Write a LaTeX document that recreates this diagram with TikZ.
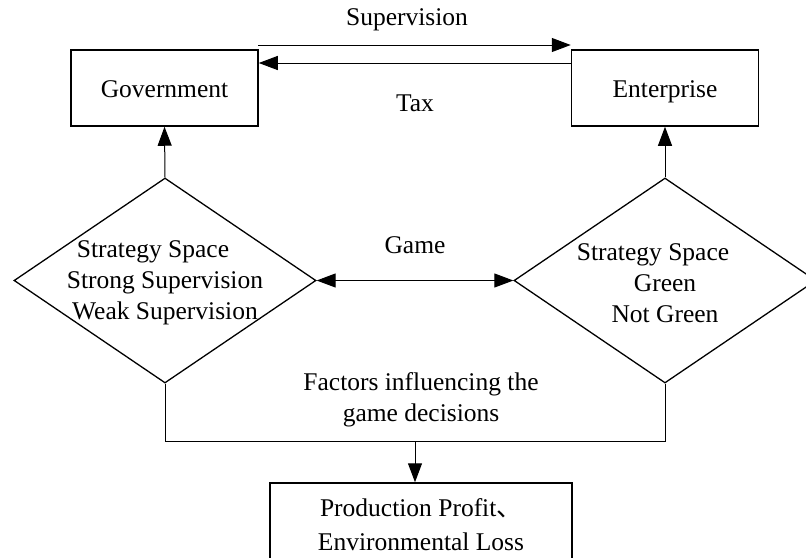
\documentclass[tikz,border=0pt]{standalone}
\usepackage{fontspec}
\setmainfont{Liberation Serif}
\newfontfamily\cjk{Noto Sans CJK SC}
\usetikzlibrary{shapes.geometric,arrows.meta,calc}
\begin{document}
\begin{tikzpicture}[x=1pt,y=-1pt,
  every node/.style={font=\fontsize{25.5}{31}\selectfont},
  boxnode/.style={draw,line width=1.5pt,minimum width=187pt,minimum height=76pt,inner sep=0pt,text height=21pt,text depth=2pt},
  dia/.style={draw,line width=1.3pt,shape=diamond,minimum width=302pt,minimum height=205pt,inner sep=0pt},
  dtext/.style={align=center,inner sep=0pt},
  lbl/.style={inner sep=0pt},
  arr/.style={line width=1pt,-{Triangle[length=19pt,width=14pt]}},
  darr/.style={line width=1pt,{Triangle[length=19pt,width=14pt]}-{Triangle[length=19pt,width=14pt]}},
  ln/.style={line width=1pt}]
\useasboundingbox (0,0) rectangle (806,557);
\node[boxnode] (gov) at (164.5,88) {Government};
\node[boxnode] (ent) at (665,88) {Enterprise};
\node[dia] (ld) at (165,280.5) {};
\node[dia] (rd) at (665,280.5) {};
\node[dtext] (ldt) at (165,283) {Strategy Space\hspace*{24pt}\\Strong Supervision\\Weak Supervision};
\node[dtext] (rdt) at (665,283) {Strategy Space\hspace*{24pt}\\Green\\Not Green};
\node[draw,line width=1.5pt,minimum width=302pt,minimum height=84pt,align=center,inner sep=0pt,font=\fontsize{25.5}{34}\selectfont] (pb) at (421,525) {Production Profit{\cjk 、}\\Environmental Loss};
% labels
\node[lbl] (lsup) at (407,20) {Supervision};
\node[lbl] (ltax) at (415,103) {Tax};
\node[lbl] (lgame) at (415,245) {Game};
\node[lbl,align=center] (lfac) at (421,400) {Factors influencing the\\game decisions};
% top arrows
\coordinate (s1) at (258,45);
\coordinate (t1) at (571,63);
\draw[arr] (s1) -- (s1 -| ent.west);
\draw[arr] (t1) -- (t1 -| gov.east);
% vertical arrows
\draw[arr] (ld.north) -- (gov.south);
\draw[arr] (rd.north) -- (ent.south);
% game
\draw[darr] (ld.east) -- (rd.west);
% bottom
\coordinate (jl) at ($(ld.south)+(0,58)$);
\coordinate (jr) at (jl -| rd.south);
\coordinate (jm) at ($(jl)!0.5!(jr)$);
\draw[ln] (ld.south) -- (jl) -- (jr) -- (rd.south);
\draw[arr] (jm) -- (jm |- pb.north);
\end{tikzpicture}
\end{document}
